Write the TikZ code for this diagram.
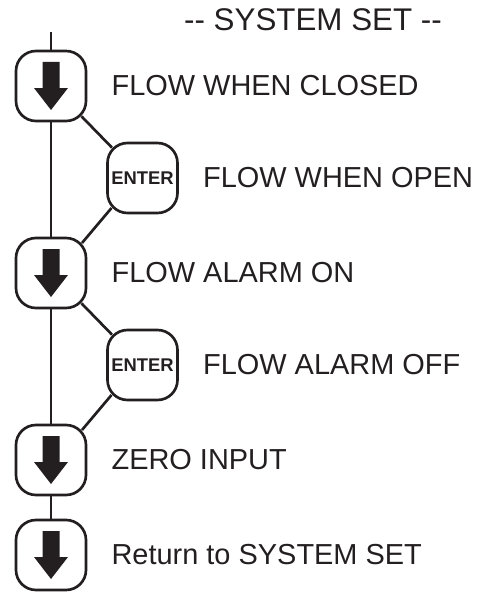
\documentclass[tikz,border=0pt]{standalone}
\usepackage{fontspec}
\setmainfont{Liberation Sans}
\usetikzlibrary{positioning}
\definecolor{ink}{HTML}{231F20}

\tikzset{
  keybox/.style={draw=ink, line width=2pt, rounded corners=15pt, minimum width=52.5pt, minimum height=52.5pt, inner sep=0pt},
  menutext/.style={inner sep=0pt, text=ink, font=\fontsize{21.7}{26}\selectfont},
  entertext/.style={text=ink, font=\bfseries\fontsize{13.8}{15}\selectfont},
  link/.style={draw=ink, line width=2pt},
  diag/.style={link, shorten <=-6.2pt, shorten >=-6.2pt},
}

\begin{document}
\begin{tikzpicture}[x=0.75pt, y=-0.75pt, node distance=18pt]
  \useasboundingbox (0,0) rectangle (480,592);
  \node[menutext, font=\fontsize{23.5}{28}\selectfont, anchor=base] (title) at (313,31) {-{}- SYSTEM SET -{}-};
  \foreach \n/\y/\t in {1/86/FLOW WHEN CLOSED, 2/273/FLOW ALARM ON, 3/460/ZERO INPUT, 4/555/Return to SYSTEM SET} {
    \node[keybox] (d\n) at (51,\y) {};
    \fill[ink, shift={(d\n)}] (-8.5,-24) -- (8.5,-24) -- (8.5,2) -- (17,2) -- (0,24) -- (-17,2) -- (-8.5,2) -- cycle;
    \node[menutext, right=of d\n] (t\n) {\t};
  }
  \foreach \n/\y/\t in {1/178/FLOW WHEN OPEN, 2/365/FLOW ALARM OFF} {
    \node[keybox, entertext] (e\n) at (142.5,\y) {ENTER};
    \node[menutext, right=of e\n] (u\n) {\t};
  }
  \coordinate (start) at (51,32);
  \draw[link] (start) -- (d1.north);
  \draw[link] (d1.south) -- (d2.north);
  \draw[link] (d2.south) -- (d3.north);
  \draw[link] (d3.south) -- (d4.north);
  \draw[diag] (d1.south east) -- (e1.north west);
  \draw[diag] (e1.south west) -- (d2.north east);
  \draw[diag] (d2.south east) -- (e2.north west);
  \draw[diag] (e2.south west) -- (d3.north east);
\end{tikzpicture}
\end{document}
